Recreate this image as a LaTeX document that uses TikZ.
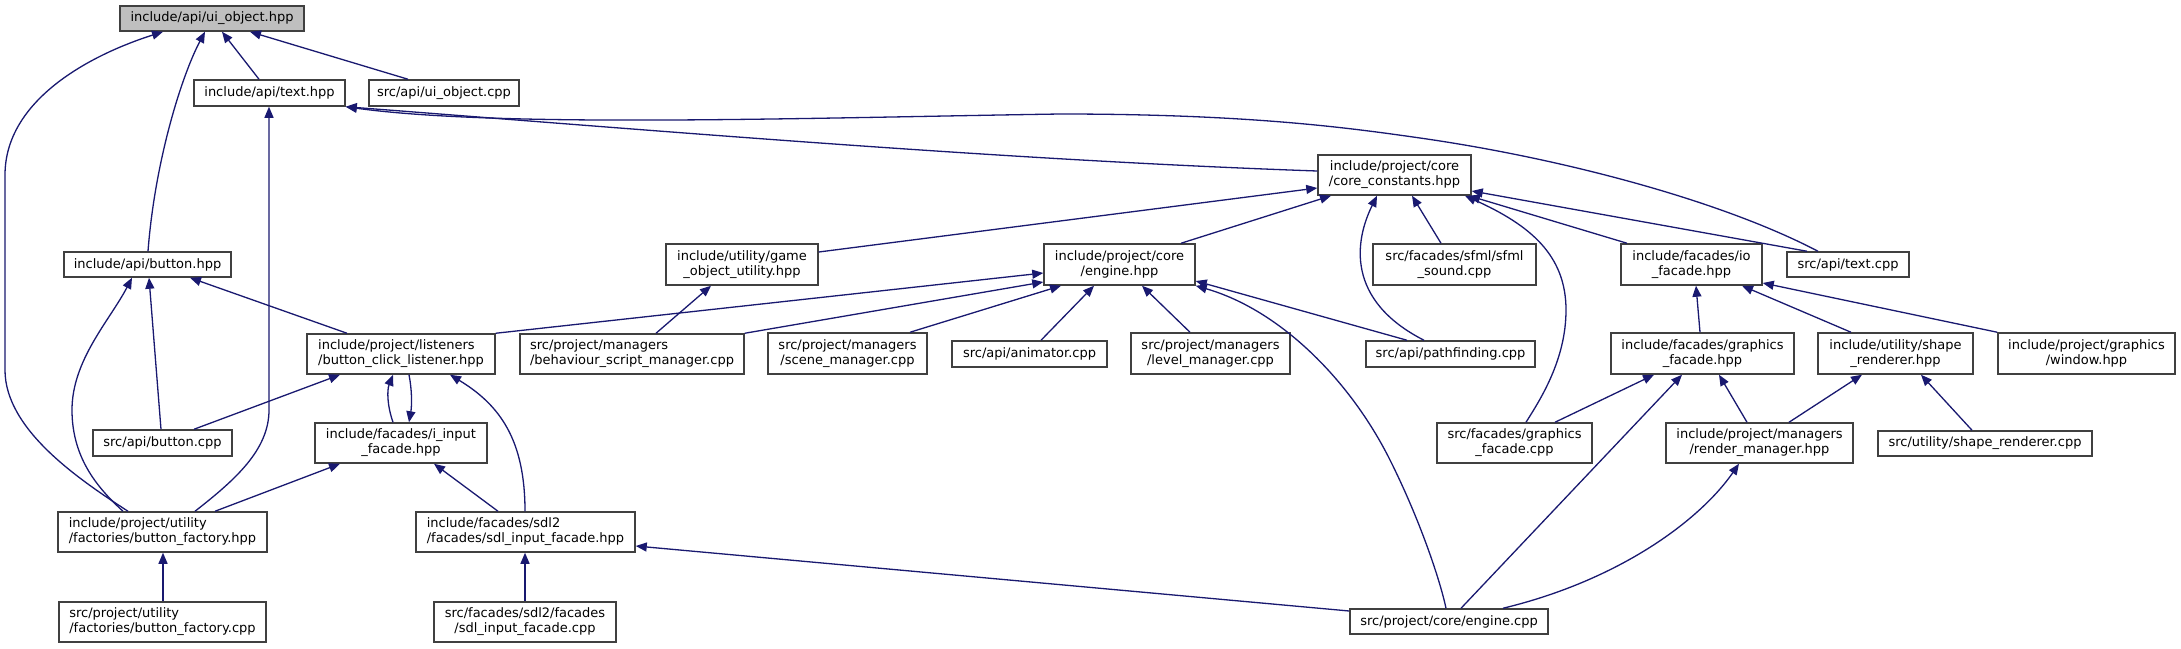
\documentclass[tikz,border=0pt]{standalone}
\usepackage{fontspec}
\setmainfont{DejaVu Sans}
\usetikzlibrary{arrows.meta}
\definecolor{edgeblue}{RGB}{25,25,112}
\definecolor{boxline}{RGB}{64,64,64}
\definecolor{rootfill}{RGB}{191,191,191}
\begin{document}
\begin{tikzpicture}[x=1pt,y=-1pt,
  box/.style={draw=boxline, line width=1.5pt, fill=white, inner sep=0pt, align=center,
    font=\fontsize{13}{15}\selectfont},
  lbox/.style={box, align=left},
  edge/.style={draw=edgeblue, line width=1.3pt, {Triangle[length=11pt,width=9pt]}-}]
\useasboundingbox (0,0) rectangle (2181,648);
\fill[white] (0,0) rectangle (2181,648);
% nodes
\node[box, fill=rootfill, minimum width=184, minimum height=25] (uiobj) at (212,18.5) {include/api/ui\_object.hpp};
\node[box, minimum width=151, minimum height=26] (texthpp) at (269.5,93) {include/api/text.hpp};
\node[box, minimum width=150, minimum height=26] (uiobjcpp) at (444,93) {src/api/ui\_object.cpp};
\node[box, minimum width=167, minimum height=25] (buttonhpp) at (147.5,264.5) {include/api/button.hpp};
\node[box, minimum width=152, minimum height=41] (gameobj) at (742,264.5) {include/utility/game\\\_object\_utility.hpp};
\node[box, minimum width=151, minimum height=41] (enginehpp) at (1119.5,264.5) {include/project/core\\/engine.hpp};
\node[box, minimum width=153, minimum height=40] (cc) at (1394.5,175) {include/project/core\\/core\_constants.hpp};
\node[box, minimum width=163, minimum height=41] (sfml) at (1454.5,264.5) {src/facades/sfml/sfml\\\_sound.cpp};
\node[box, minimum width=141, minimum height=41] (io) at (1691.5,264.5) {include/facades/io\\\_facade.hpp};
\node[box, minimum width=122, minimum height=25] (textcpp) at (1848,264.5) {src/api/text.cpp};
\node[lbox, minimum width=188, minimum height=40] (bcl) at (401,354) {include/project/listeners\\/button\_click\_listener.hpp};
\node[lbox, minimum width=224, minimum height=40] (behav) at (632,354) {src/project/managers\\/behaviour\_script\_manager.cpp};
\node[box, minimum width=159, minimum height=41] (scene) at (847.5,353.5) {src/project/managers\\/scene\_manager.cpp};
\node[box, minimum width=155, minimum height=26] (animator) at (1029.5,354) {src/api/animator.cpp};
\node[box, minimum width=159, minimum height=41] (level) at (1210.5,353.5) {src/project/managers\\/level\_manager.cpp};
\node[box, minimum width=169, minimum height=26] (pathf) at (1450.5,354) {src/api/pathfinding.cpp};
\node[box, minimum width=183, minimum height=41] (gfhpp) at (1702.5,353.5) {include/facades/graphics\\\_facade.hpp};
\node[box, minimum width=155, minimum height=41] (shapehpp) at (1895.5,353.5) {include/utility/shape\\\_renderer.hpp};
\node[box, minimum width=177, minimum height=41] (window) at (2086.5,353.5) {include/project/graphics\\/window.hpp};
\node[box, minimum width=139, minimum height=26] (buttoncpp) at (162.5,443) {src/api/button.cpp};
\node[box, minimum width=172, minimum height=40] (iinput) at (401,443) {include/facades/i\_input\\\_facade.hpp};
\node[box, minimum width=155, minimum height=40] (gfcpp) at (1514.5,443) {src/facades/graphics\\\_facade.cpp};
\node[box, minimum width=187, minimum height=40] (render) at (1759.5,443) {include/project/managers\\/render\_manager.hpp};
\node[box, minimum width=214, minimum height=25] (shapecpp) at (1985,443.5) {src/utility/shape\_renderer.cpp};
\node[lbox, minimum width=209, minimum height=40] (bfhpp) at (162.5,532) {include/project/utility\\/factories/button\_factory.hpp};
\node[lbox, minimum width=219, minimum height=40] (sdlhpp) at (525.5,532) {include/facades/sdl2\\/facades/sdl\_input\_facade.hpp};
\node[lbox, minimum width=207, minimum height=40] (bfcpp) at (162.5,622) {src/project/utility\\/factories/button\_factory.cpp};
\node[box, minimum width=182, minimum height=40] (sdlcpp) at (525,622) {src/facades/sdl2/facades\\/sdl\_input\_facade.cpp};
\node[box, minimum width=198, minimum height=25] (enginecpp) at (1449,621.5) {src/project/core/engine.cpp};
% edges
\draw[edge] (uiobj.south -| 222,0) -- (texthpp.north -| 259,0);
\draw[edge] (uiobj.south -| 250,0) -- (uiobjcpp.north -| 408,0);
\draw[edge] (uiobj.south -| 205,0) .. controls (182,75) and (155,160) .. (buttonhpp.north -| 148,0);
\draw[edge] (uiobj.south -| 163,0) .. controls (90,55) and (5,100) .. (5,175) -- (5,370) .. controls (5,430) and (80,480) .. (bfhpp.north -| 128,0);
\draw[edge] (texthpp.south -| 269,0) -- (269,410) .. controls (269,450) and (235,480) .. (bfhpp.north -| 195,0);
\draw[edge] (texthpp.south east) .. controls (650,130) and (1000,160) .. (cc.west |- 0,171);
\draw[edge] (texthpp.south east) .. controls (500,128) and (800,118) .. (1060,114) .. controls (1250,114) and (1350,128) .. (1420,138) .. controls (1560,158) and (1720,200) .. (textcpp.north -| 1818,0);
\draw[edge] (buttonhpp.south -| 190,0) -- (bcl.north -| 347,0);
\draw[edge] (buttonhpp.south -| 149,0) -- (buttoncpp.north -| 161,0);
\draw[edge] (buttonhpp.south -| 132,0) .. controls (110,320) and (72,360) .. (72,410) .. controls (72,460) and (100,490) .. (bfhpp.north -| 123,0);
\draw[edge] (cc.west |- 0,188) -- (gameobj.east |- 0,252);
\draw[edge] (cc.south -| 1331,0) -- (enginehpp.north -| 1181,0);
\draw[edge] (cc.south -| 1377,0) .. controls (1355,240) and (1345,300) .. (pathf.north -| 1424,0);
\draw[edge] (cc.south -| 1412,0) -- (sfml.north -| 1441,0);
\draw[edge] (cc.south -| 1465,0) .. controls (1530,225) and (1566,255) .. (1566,310) .. controls (1566,360) and (1540,400) .. (gfcpp.north -| 1526,0);
\draw[edge] (cc.south -| 1469,0) -- (io.north -| 1627,0);
\draw[edge] (cc.east |- 0,191) -- (textcpp.north -| 1807,0);
\draw[edge] (gameobj.south -| 711,0) -- (behav.north -| 656,0);
\draw[edge] (enginehpp.west |- 0,273) -- (bcl.north east);
\draw[edge] (enginehpp.west |- 0,282) -- (behav.north east);
\draw[edge] (enginehpp.south -| 1061,0) -- (scene.north -| 910,0);
\draw[edge] (enginehpp.south -| 1094,0) -- (animator.north -| 1041,0);
\draw[edge] (enginehpp.south -| 1142,0) -- (level.north -| 1190,0);
\draw[edge] (enginehpp.east |- 0,281) -- (pathf.north -| 1407,0);
\draw[edge] (enginehpp.south east) .. controls (1280,310) and (1350,380) .. (1390,460) .. controls (1420,520) and (1440,580) .. (enginecpp.north -| 1446,0);
\draw[edge] (io.south -| 1696,0) -- (gfhpp.north -| 1700,0);
\draw[edge] (io.south -| 1742,0) -- (shapehpp.north -| 1851,0);
\draw[edge] (io.east |- 0,283) -- (window.north west);
\draw[edge] (bcl.south -| 340,0) -- (buttoncpp.north -| 194,0);
\draw[edge] (bcl.south -| 393,0) .. controls (387,390) and (387,405) .. (iinput.north -| 393,0);
\draw[edge] (iinput.north -| 409,0) .. controls (412,405) and (412,390) .. (bcl.south -| 409,0);
\draw[edge] (bcl.south -| 450,0) .. controls (500,405) and (525,440) .. (sdlhpp.north -| 525,0);
\draw[edge] (iinput.south -| 340,0) -- (bfhpp.north -| 215,0);
\draw[edge] (iinput.south -| 434,0) -- (sdlhpp.north -| 498,0);
\draw[edge] (bfhpp.south -| 163,0) -- (bfcpp.north -| 163,0);
\draw[edge] (sdlhpp.south -| 525,0) -- (sdlcpp.north -| 525,0);
\draw[edge] (sdlhpp.east |- 0,546) -- (enginecpp.west |- 0,611);
\draw[edge] (gfhpp.south -| 1654,0) -- (gfcpp.north -| 1555,0);
\draw[edge] (gfhpp.south -| 1682,0) -- (enginecpp.north -| 1461,0);
\draw[edge] (gfhpp.south -| 1719,0) -- (render.north -| 1747,0);
\draw[edge] (shapehpp.south -| 1862,0) -- (render.north -| 1789,0);
\draw[edge] (shapehpp.south -| 1921,0) -- (shapecpp.north -| 1972,0);
\draw[edge] (render.south -| 1739,0) .. controls (1700,520) and (1620,580) .. (enginecpp.north -| 1503,0);
\end{tikzpicture}
\end{document}
